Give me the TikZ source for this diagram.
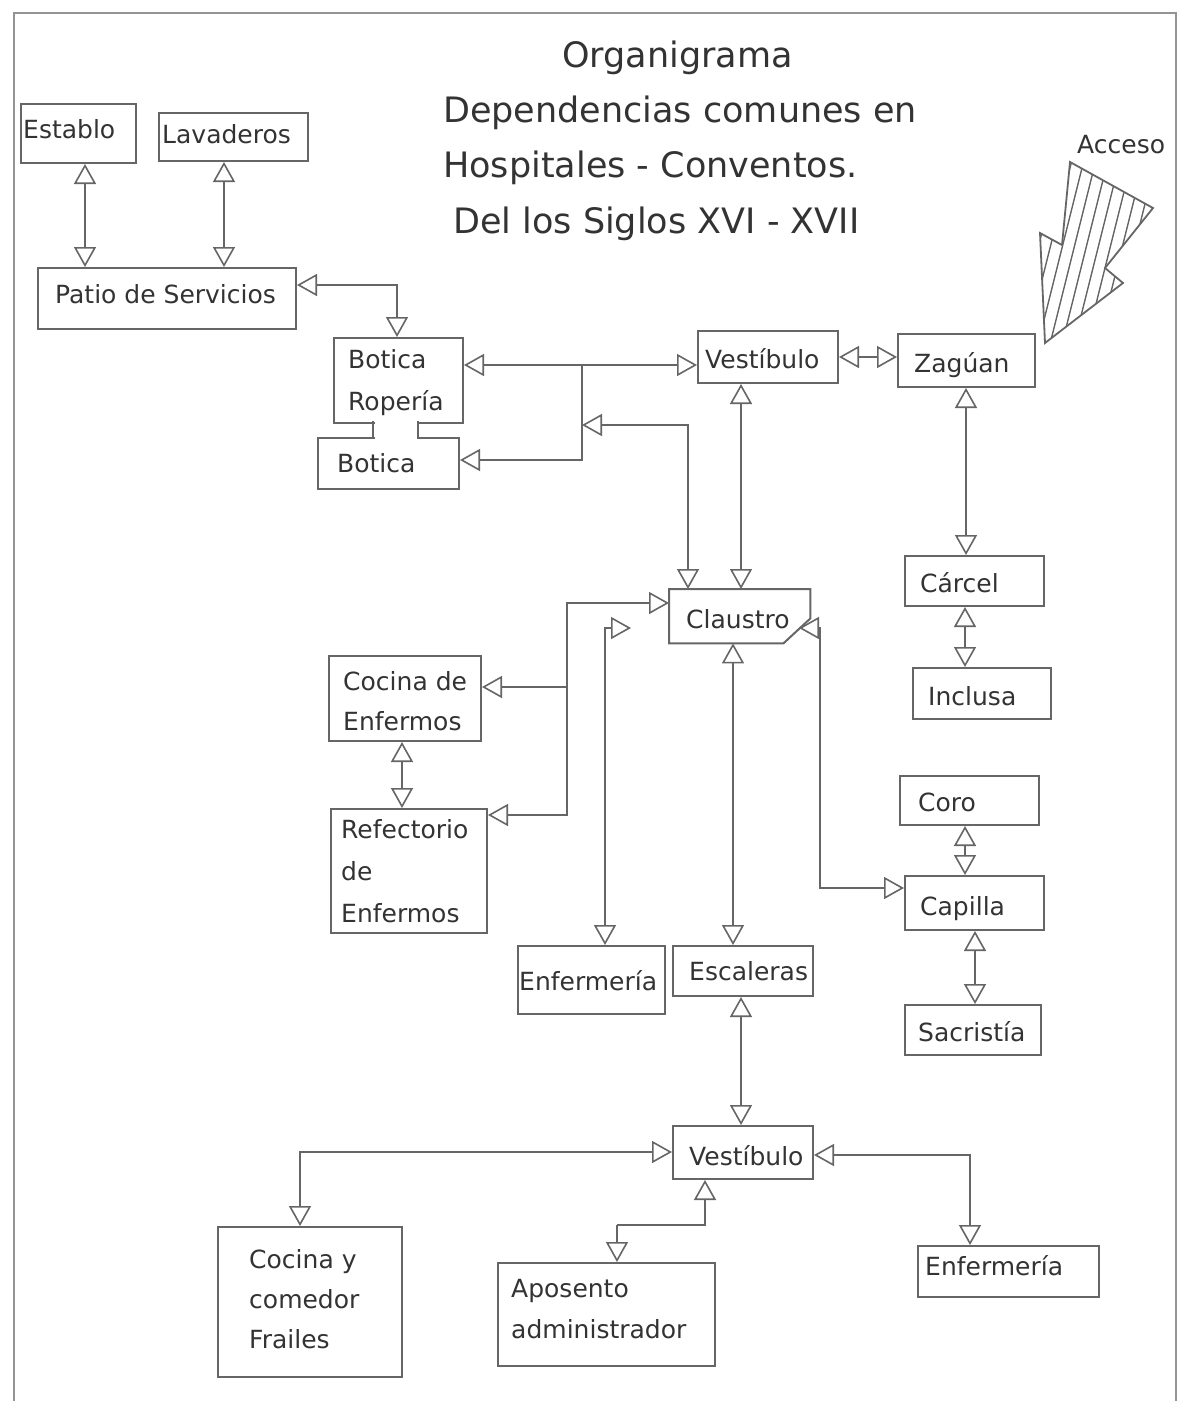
\documentclass[tikz,border=0pt]{standalone}
\usepackage{fontspec}
\setmainfont{DejaVu Sans}
\usetikzlibrary{arrows.meta,calc}
\definecolor{ln}{HTML}{666666}
\definecolor{tx}{HTML}{333333}
\begin{document}
\begin{tikzpicture}[x=1pt,y=-1pt,
  box/.style={draw=ln, line width=2pt, inner sep=0pt, anchor=north west},
  nobox/.style={inner sep=0pt, anchor=north west},
  lbl/.style={text=tx, font=\fontsize{25}{30}\selectfont, inner sep=0pt, anchor=base west},
  ttl/.style={text=tx, font=\fontsize{35}{42}\selectfont, inner sep=0pt, anchor=base west},
  con/.style={draw=ln, line width=1.6pt},
  dbl/.style={con, {Triangle[open,length=20pt,width=22pt]}-{Triangle[open,length=20pt,width=22pt]}},
  sgl/.style={con, -{Triangle[open,length=20pt,width=22pt]}},
]
\useasboundingbox (0,0) rectangle (1179,1401);
\fill[white] (0,0) rectangle (1179,1401);
% frame
\draw[ln!70, line width=2pt] (14,1401) -- (14,13) -- (1176,13) -- (1176,1401);

% title
\node[ttl] (ti1) at (562,67) {Organigrama};
\node[ttl] (ti2) at (443,122) {Dependencias comunes en};
\node[ttl] (ti3) at (443,177) {Hospitales - Conventos.};
\node[ttl] (ti4) at (453,233) {Del los Siglos XVI - XVII};

% boxes
\node[box, minimum width=115pt, minimum height=59pt] (establo) at (20,103) {};
\node[box, minimum width=149pt, minimum height=48pt] (lavaderos) at (158,112) {};
\node[box, minimum width=258pt, minimum height=61pt] (patio) at (37,267) {};
\node[box, minimum width=129pt, minimum height=85pt] (boticaR) at (333,337) {};
\node[box, minimum width=141pt, minimum height=51pt] (botica) at (317,437) {};
\fill[white] (374.5,420) rectangle (416.5,439);
\draw[ln, line width=2pt] (373,421) -- (373,438) (418,421) -- (418,438);
\node[box, minimum width=140pt, minimum height=52pt] (vest1) at (697,330) {};
\node[box, minimum width=137pt, minimum height=53pt] (zaguan) at (897,333) {};
\node[nobox, minimum width=141pt, minimum height=54pt] (claustro) at (669,589) {};
\draw[ln, line width=2pt] (claustro.north west) -- (claustro.north east)
  -- ($(claustro.south east)+(0,-25)$) -- ($(claustro.south east)+(-27,0)$)
  -- (claustro.south west) -- cycle;
\node[box, minimum width=139pt, minimum height=50pt] (carcel) at (904,555) {};
\node[box, minimum width=138pt, minimum height=51pt] (inclusa) at (912,667) {};
\node[box, minimum width=152pt, minimum height=85pt] (cocinaE) at (328,655) {};
\node[box, minimum width=156pt, minimum height=124pt] (refect) at (330,808) {};
\node[box, minimum width=139pt, minimum height=49pt] (coro) at (899,775) {};
\node[box, minimum width=139pt, minimum height=54pt] (capilla) at (904,875) {};
\node[box, minimum width=136pt, minimum height=50pt] (sacristia) at (904,1004) {};
\node[box, minimum width=147pt, minimum height=68pt] (enfM) at (517,945) {};
\node[box, minimum width=140pt, minimum height=50pt] (escal) at (672,945) {};
\node[box, minimum width=140pt, minimum height=53pt] (vest2) at (672,1125) {};
\node[box, minimum width=184pt, minimum height=150pt] (cocinaF) at (217,1226) {};
\node[box, minimum width=217pt, minimum height=103pt] (aposento) at (497,1262) {};
\node[box, minimum width=181pt, minimum height=51pt] (enf2) at (917,1245) {};

% labels
\node[lbl] (l1) at (23,138) {Establo};
\node[lbl] (l2) at (162,143) {Lavaderos};
\node[lbl] (l3) at (55,303) {Patio de Servicios};
\node[lbl] (l4) at (348,368) {Botica};
\node[lbl] (l5) at (348,410) {Ropería};
\node[lbl] (l6) at (337,472) {Botica};
\node[lbl] (l7) at (705,368) {Vestíbulo};
\node[lbl] (l8) at (914,372) {Zagúan};
\node[lbl] (l9) at (686,628) {Claustro};
\node[lbl] (l10) at (920,592) {Cárcel};
\node[lbl] (l11) at (928,705) {Inclusa};
\node[lbl] (l12) at (343,690) {Cocina de};
\node[lbl] (l13) at (343,730) {Enfermos};
\node[lbl] (l14) at (341,838) {Refectorio};
\node[lbl] (l15) at (341,880) {de};
\node[lbl] (l16) at (341,922) {Enfermos};
\node[lbl] (l17) at (918,811) {Coro};
\node[lbl] (l18) at (920,915) {Capilla};
\node[lbl] (l19) at (918,1041) {Sacristía};
\node[lbl] (l20) at (519,990) {Enfermería};
\node[lbl] (l21) at (689,980) {Escaleras};
\node[lbl] (l22) at (689,1165) {Vestíbulo};
\node[lbl] (l23) at (249,1268) {Cocina y};
\node[lbl] (l24) at (249,1308) {comedor};
\node[lbl] (l25) at (249,1348) {Frailes};
\node[lbl] (l26) at (511,1297) {Aposento};
\node[lbl] (l27) at (511,1338) {administrador};
\node[lbl] (l28) at (925,1275) {Enfermería};
\node[lbl] (l29) at (1077,153) {Acceso};

% Acceso arrow
\begin{scope}
  \clip (1070,162) -- (1153,208) -- (1105,268) -- (1123,283) -- (1045,343) -- (1040,233) -- (1062,245) -- cycle;
  \foreach \i in {0,...,11} \draw[ln, line width=1.4pt] ({998+12*\i},360) -- ({1053+12*\i},140);
\end{scope}
\draw[ln, line width=1.8pt, line join=miter] (1070,162) -- (1153,208) -- (1105,268) -- (1123,283) -- (1045,343) -- (1040,233) -- (1062,245) -- cycle;

% junction coordinates
\coordinate (j1) at (582,365);
\coordinate (j2) at (582,425);
\coordinate (ctip) at (631,628);
\coordinate (chm) at (799,628);

% connectors
\draw[dbl] (85,0 |- establo.south) -- (85,0 |- patio.north);
\draw[dbl] (224,0 |- lavaderos.south) -- (224,0 |- patio.north);
\draw[dbl] (patio.east |- 0,285) -| (397,0 |- boticaR.north);
\draw[dbl] (boticaR.east |- 0,365) -- (vest1.west |- 0,365);
\draw[sgl] (j1) |- (botica.east |- 0,460);
\draw[dbl] (j2) -| (688,0 |- claustro.north);
\draw[dbl] (vest1.east |- 0,357) -- (zaguan.west |- 0,357);
\draw[dbl] (741,0 |- vest1.south) -- (741,0 |- claustro.north);
\draw[dbl] (966,0 |- zaguan.south) -- (966,0 |- carcel.north);
\draw[dbl] (965,0 |- carcel.south) -- (965,0 |- inclusa.north);
\draw[dbl] (965,0 |- coro.south) -- (965,0 |- capilla.north);
\draw[dbl] (975,0 |- capilla.south) -- (975,0 |- sacristia.north);
\draw[dbl] (capilla.west |- 0,888) -| (820,628) -- (chm);
\draw[dbl] (claustro.west |- 0,603) -| (567,815) -- (refect.east |- 0,815);
\draw[sgl] (567,687) -- (cocinaE.east |- 0,687);
\draw[dbl] (402,0 |- cocinaE.south) -- (402,0 |- refect.north);
\draw[dbl] (ctip) -| (605,0 |- enfM.north);
\draw[dbl] (733,0 |- claustro.south) -- (733,0 |- escal.north);
\draw[dbl] (741,0 |- escal.south) -- (741,0 |- vest2.north);
\draw[dbl] (vest2.west |- 0,1152) -| (300,0 |- cocinaF.north);
\draw[con, {Triangle[open,length=20pt,width=22pt]}-] (705,0 |- vest2.south) |- (617,1225);
\draw[sgl] (617,1225) -- (617,0 |- aposento.north);
\draw[dbl] (vest2.east |- 0,1155) -| (970,0 |- enf2.north);
\end{tikzpicture}
\end{document}
